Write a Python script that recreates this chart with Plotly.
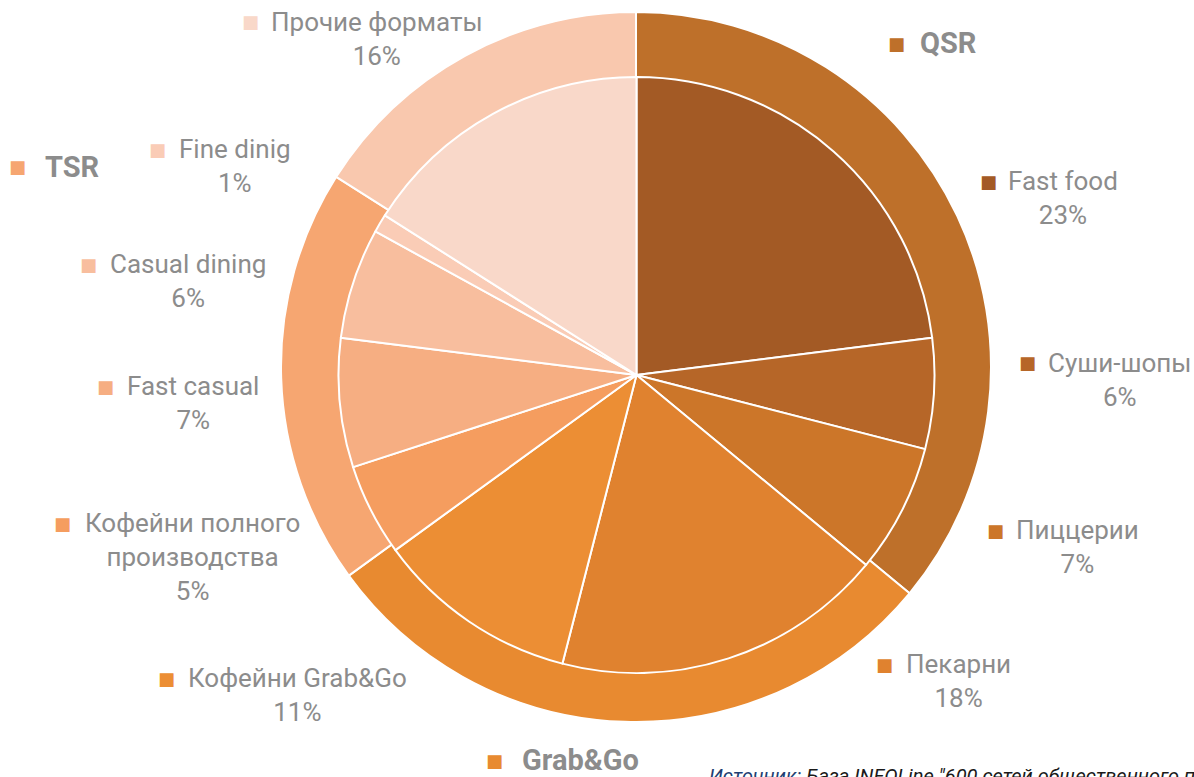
import plotly.graph_objects as go

# ---- data ----
inner_labels = ["Fast food", "Суши-шопы", "Пиццерии", "Пекарни", "Кофейни Grab&Go",
                "Кофейни полного производства", "Fast casual", "Casual dining", "Fine dinig",
                "Прочие форматы"]
inner_values = [23, 6, 7, 18, 11, 5, 7, 6, 1, 16]
inner_colors = ["#A35A25", "#B66628", "#CC7629", "#E0822F", "#EC8E34",
                "#F59D5F", "#F6AE82", "#F8BE9E", "#FACCB6", "#F9D8C9"]

outer_labels = ["QSR", "Grab&Go", "TSR", "Прочие форматы"]
outer_values = [36, 29, 19, 16]
outer_colors = ["#BE702A", "#E88A30", "#F6A671", "#F9C8AE"]

source_label = "Источник:"
source_text = " База INFOLine \"600 сетей общественного питания России\""

W, H = 1194, 777

def px_dom(cx, cy, r):
    return dict(x=[(cx - r) / W, (cx + r) / W], y=[(H - (cy + r)) / H, (H - (cy - r)) / H])

fig = go.Figure()
fig.add_trace(go.Pie(labels=outer_labels, values=outer_values, sort=False, direction="clockwise",
                     rotation=0, marker=dict(colors=outer_colors, line=dict(color="white", width=2)),
                     textinfo="none", hoverinfo="label+percent", domain=px_dom(636, 367, 355),
                     showlegend=False))
fig.add_trace(go.Pie(labels=inner_labels, values=inner_values, sort=False, direction="clockwise",
                     rotation=0, marker=dict(colors=inner_colors, line=dict(color="white", width=2)),
                     textinfo="none", hoverinfo="label+percent", domain=px_dom(636.5, 375, 298),
                     showlegend=False))

FONT = "Roboto"
GRAY = "#8C8C8C"

# label layout: (marker x, y, text center x) in pixels
inner_pos = [(988, 181, 1063), (1027, 363, 1120), (995, 530, 1077), (884, 664, 958),
             (166, 678, 297), (62, 523, 192), (105, 386, 193), (88, 264, 188),
             (157, 149, 235), (250, 22, 377)]
outer_pos = [(896, 43, 948), (494, 760, 580), (17, 167, 72)]

anns = []
def add_marker(x, y, color, size):
    anns.append(dict(x=x / W, y=1 - y / H, xref="paper", yref="paper", text="■", showarrow=False,
                     font=dict(family="DejaVu Sans", size=size, color=color),
                     xanchor="center", yanchor="middle"))

for i, (lab, val, col) in enumerate(zip(inner_labels, inner_values, inner_colors)):
    mx, my, tx = inner_pos[i]
    add_marker(mx, my, col, 18)
    if lab == "Кофейни полного производства":
        txt = "Кофейни полного<br>производства<br>%d%%" % val
    else:
        txt = "%s<br>%d%%" % (lab, val)
    anns.append(dict(x=tx / W, y=1 - (my - 17) / H, xref="paper", yref="paper", text=txt,
                     showarrow=False, font=dict(family=FONT, size=26, color=GRAY),
                     xanchor="center", yanchor="top", align="center"))

for i, lab in enumerate(outer_labels[:3]):
    mx, my, tx = outer_pos[i]
    add_marker(mx, my, outer_colors[i], 18)
    anns.append(dict(x=tx / W, y=1 - my / H, xref="paper", yref="paper", text="<b>%s</b>" % lab,
                     showarrow=False, font=dict(family=FONT, size=29, color=GRAY),
                     xanchor="center", yanchor="middle"))

anns.append(dict(x=707 / W, y=1 - 776 / H, xref="paper", yref="paper",
                 text="<i><span style='color:#1F3F73'>%s</span>%s</i>" % (source_label, source_text),
                 showarrow=False, font=dict(family=FONT, size=20, color="#1A1A1A"),
                 xanchor="left", yanchor="middle"))

fig.update_layout(width=W, height=H, margin=dict(l=0, r=0, t=0, b=0),
                  paper_bgcolor="white", plot_bgcolor="white", annotations=anns)

fig.write_html("out.html", config={"displayModeBar": False},
               post_script="document.body.style.margin='0';document.body.style.overflow='hidden';")
